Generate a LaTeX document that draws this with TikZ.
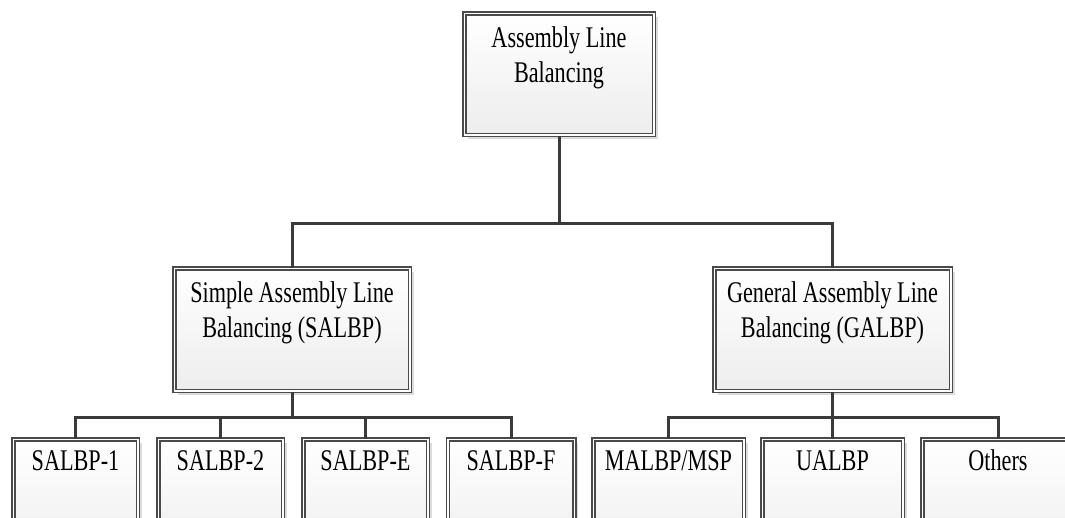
\documentclass[tikz,border=0pt]{standalone}
\usepackage{fontspec}
\setmainfont{Liberation Serif}[FakeStretch=0.74]
\usetikzlibrary{shadows}
\definecolor{frame}{HTML}{4A4A4A}
\definecolor{wire}{HTML}{3A3A3A}
\definecolor{shade}{HTML}{DCDCDC}
\definecolor{fillbot}{HTML}{EDEDED}
% box text: width, height, first-baseline depth, text
\newcommand\boxtxt[4]{\parbox[t][#2][t]{#1}{\centering\fontsize{30pt}{35pt}\selectfont\rule{0pt}{#3}#4}}
\tikzset{
  box/.style={rectangle, inner sep=0pt, draw=frame, line width=1.5pt,
    double=white, double distance=1.5pt,
    top color=white, bottom color=fillbot,
    drop shadow={shadow xshift=4pt, shadow yshift=-4pt, fill=shade, opacity=1}},
  conn/.style={draw=wire, line width=3pt}
}
\begin{document}
\begin{tikzpicture}[x=1pt,y=-1pt]
\useasboundingbox (0,0) rectangle (1065,517);
\clip (0,0) rectangle (1065,517);

% root
\node[box] (root) at (559,74) {\boxtxt{189.5pt}{121.5pt}{34pt}{Assembly Line\\Balancing}};

% second level
\node[box] (salbp) at (292,329.5) {\boxtxt{235.5pt}{122.5pt}{34pt}{Simple Assembly Line\\Balancing (SALBP)}};
\node[box] (galbp) at (832.5,329.5) {\boxtxt{236.5pt}{122.5pt}{34pt}{General Assembly Line\\Balancing (GALBP)}};

% third level
\node[box] (s1) at (75.5,500) {\boxtxt{124.5pt}{121.5pt}{31pt}{SALBP-1}};
\node[box] (s2) at (220.5,500) {\boxtxt{124.5pt}{121.5pt}{31pt}{SALBP-2}};
\node[box] (se) at (365.5,500) {\boxtxt{124.5pt}{121.5pt}{31pt}{SALBP-E}};
\node[box] (sf) at (511,500) {\boxtxt{126.5pt}{121.5pt}{31pt}{SALBP-F}};
\node[box] (g1) at (668.5,500) {\boxtxt{150.5pt}{121.5pt}{31pt}{MALBP/MSP}};
\node[box] (g2) at (832.5,500) {\boxtxt{140.5pt}{121.5pt}{31pt}{UALBP}};
\node[box] (g3) at (998,500) {\boxtxt{151.5pt}{121.5pt}{31pt}{Others}};

% junctions
\coordinate (j1) at (559,223);
\coordinate (j2) at (292,417);
\coordinate (j3) at (832.5,417);

% connectors
\draw[conn] (root.south) -- (j1);
\draw[conn] (j1) -| (salbp.north);
\draw[conn] (j1) -| (galbp.north);

\draw[conn] (salbp.south) -- (j2);
\foreach \n in {s1,s2,se,sf} \draw[conn] (j2) -| (\n.north);

\draw[conn] (galbp.south) -- (j3);
\foreach \n in {g1,g2,g3} \draw[conn] (j3) -| (\n.north);
\end{tikzpicture}
\end{document}
